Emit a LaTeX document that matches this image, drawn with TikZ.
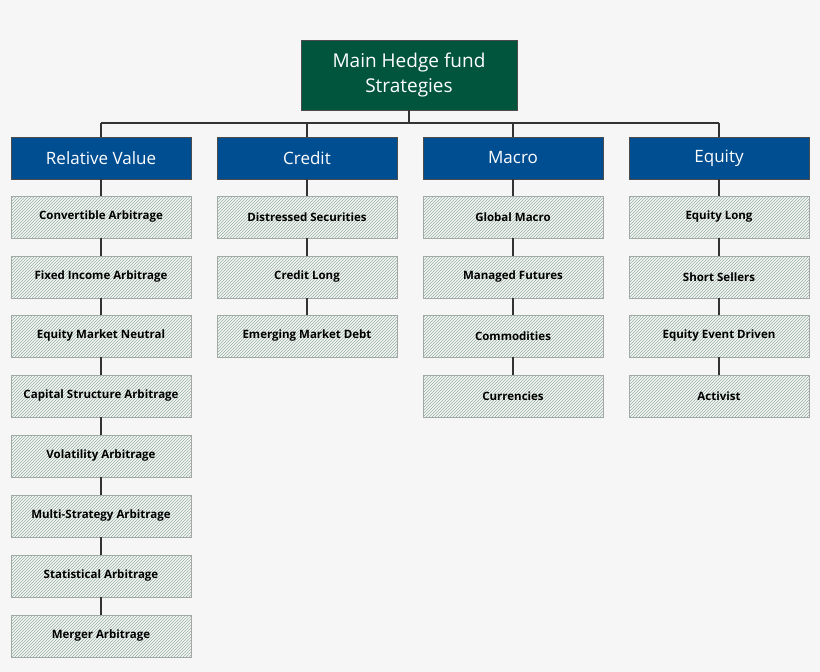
\documentclass[tikz,border=0pt]{standalone}
\usepackage{fontspec}
\setmainfont{Open Sans}
\usetikzlibrary{patterns}
\definecolor{hfgreen}{RGB}{0,85,60}
\definecolor{hfblue}{RGB}{0,78,146}
\definecolor{hfhatch}{RGB}{150,180,165}
\tikzset{
  root/.style={draw=gray!60!black,fill=hfgreen,text=white,minimum width=216pt,minimum height=70pt,align=center,font=\fontsize{19}{25}\selectfont},
  cat/.style={draw=gray!60!black,fill=hfblue,text=white,minimum width=180pt,minimum height=42pt,font=\fontsize{17}{20}\selectfont},
  sub/.style={draw=gray!70,fill=gray!8,postaction={pattern=north east lines,pattern color=hfhatch},minimum width=180pt,minimum height=42pt,font=\fontsize{11.5}{14}\selectfont\bfseries},
  link/.style={line width=2.2pt,color=black!80}
}
\begin{document}
\begin{tikzpicture}[x=1pt,y=-1pt]
  \fill[gray!7] (0,0) rectangle (820,672);
  \useasboundingbox (0,0) rectangle (820,672);
  \coordinate (bus) at (409,123);
  \coordinate (busL) at (101,123);
  \coordinate (busR) at (719,123);
  \draw[link] (busL) -- (busR);
  \node[root] (main) at (409,75) {Main Hedge fund\\Strategies};
  \draw[link] (main) -- (bus);
  \foreach \n/\x/\t in {rv/101/Relative Value,cr/307/Credit,ma/513/Macro,eq/719/Equity}{
    \draw[link] (\x,123) -- (\x,137);
    \node[cat] (\n) at (\x,158) {\t};
  }
  % relative value
  \foreach \i/\y/\t in {1/217/Convertible Arbitrage,2/277/Fixed Income Arbitrage,3/336/Equity Market Neutral,
      4/396/Capital Structure Arbitrage,5/456/Volatility Arbitrage,6/516/Multi-Strategy Arbitrage,
      7/576/Statistical Arbitrage,8/636/Merger Arbitrage}{
    \node[sub] (rv\i) at (101,\y) {\t};
  }
  % credit
  \foreach \i/\y/\t in {1/217/Distressed Securities,2/277/Credit Long/Short,3/336/Emerging Market Debt}{
    \node[sub] (cr\i) at (307,\y) {\t};
  }
  % macro
  \foreach \i/\y/\t in {1/217/Global Macro,2/277/Managed Futures,3/336/Commodities,4/396/Currencies}{
    \node[sub] (ma\i) at (513,\y) {\t};
  }
  % equity
  \foreach \i/\y/\t in {1/217/Equity Long/Short,2/277/Short Sellers,3/336/Equity Event Driven,4/396/Activist}{
    \node[sub] (eq\i) at (719,\y) {\t};
  }
  \draw[link] (rv) -- (rv1) (rv1) -- (rv2) (rv2) -- (rv3) (rv3) -- (rv4)
    (rv4) -- (rv5) (rv5) -- (rv6) (rv6) -- (rv7) (rv7) -- (rv8);
  \draw[link] (cr) -- (cr1) (cr1) -- (cr2) (cr2) -- (cr3);
  \draw[link] (ma) -- (ma1) (ma1) -- (ma2) (ma2) -- (ma3) (ma3) -- (ma4);
  \draw[link] (eq) -- (eq1) (eq1) -- (eq2) (eq2) -- (eq3) (eq3) -- (eq4);
\end{tikzpicture}
\end{document}
